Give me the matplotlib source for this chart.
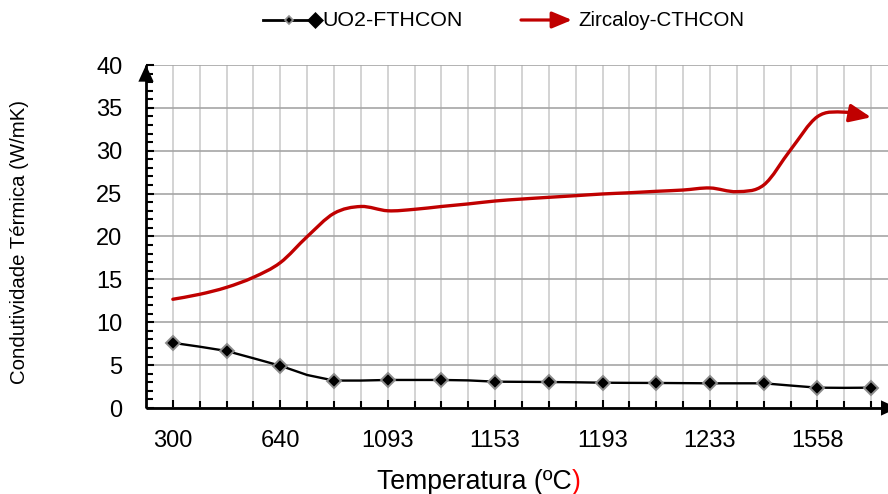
import matplotlib
matplotlib.use("Agg")
import matplotlib.pyplot as plt
import numpy as np
from matplotlib.lines import Line2D
from matplotlib.path import Path
from matplotlib.patches import FancyArrowPatch
from matplotlib.ticker import MultipleLocator, FixedLocator

plt.rcParams['font.family'] = ['Liberation Sans', 'DejaVu Sans']

# Temperature labels shown on the category axis (every fourth category)
temp_labels = ['300', '640', '1093', '1153', '1193', '1233', '1558']

# Thermal conductivity (W/mK) at each category position
uo2_fthcon = [7.6, 7.15, 6.65, 5.8, 4.93, 3.85, 3.2, 3.2, 3.27, 3.27,
              3.27, 3.22, 3.07, 3.05, 3.03, 3.0, 2.95, 2.93, 2.92, 2.9,
              2.88, 2.88, 2.88, 2.62, 2.37, 2.35, 2.37]
zircaloy_cthcon = [12.68, 13.26, 14.07, 15.24, 16.95, 19.98, 22.7, 23.5,
                   23.0, 23.17, 23.5, 23.8, 24.14, 24.37, 24.57, 24.76,
                   24.96, 25.1, 25.27, 25.42, 25.66, 25.23, 26.0, 30.1,
                   33.97, 34.5, 33.9]

RED = '#c00000'
W, H = 888, 494


def smooth_path(x, y):
    """Cubic Bezier path through the points (Catmull-Rom style smoothing)."""
    p = np.column_stack([x, y]).astype(float)
    verts = [p[0]]
    codes = [Path.MOVETO]
    for i in range(len(p) - 1):
        p0 = p[i - 1] if i > 0 else p[i]
        p1, p2 = p[i], p[i + 1]
        p3 = p[i + 2] if i + 2 < len(p) else p[i + 1]
        verts += [p1 + (p2 - p0) / 6, p2 - (p3 - p1) / 6, p2]
        codes += [Path.CURVE4] * 3
    return Path(verts, codes)


fig = plt.figure(figsize=(W / 100, H / 100), dpi=100)
ax = fig.add_axes([146 / W, 1 - 408 / H, (W - 146) / W, (408 - 65) / H])

n = len(uo2_fthcon)
xs = list(range(n))

ax.set_xlim(-1.0, 26.63)
ax.set_ylim(0, 40)

# ticks and grid
ax.xaxis.set_major_locator(FixedLocator(list(range(0, n, 4))))
ax.xaxis.set_minor_locator(FixedLocator(list(range(n))))
ax.set_xticklabels(temp_labels)
ax.yaxis.set_major_locator(MultipleLocator(5))
ax.yaxis.set_minor_locator(MultipleLocator(1))
ax.grid(axis='x', which='both', color='#c8c8c8', lw=1.1, zorder=0)
ax.grid(axis='y', which='major', color='#a6a6a6', lw=1.2, zorder=0)
ax.set_axisbelow(True)

for s in ('top', 'right'):
    ax.spines[s].set_visible(False)
for s in ('left', 'bottom'):
    ax.spines[s].set_linewidth(2.0)
    ax.spines[s].set_capstyle('butt')

ax.tick_params(axis='both', which='both', direction='in', color='black', width=1.5)
ax.tick_params(axis='both', which='major', length=6)
ax.tick_params(axis='both', which='minor', length=5)
ax.tick_params(axis='x', which='major', pad=16, labelsize=17)
ax.tick_params(axis='y', which='major', pad=17, labelsize=17)

# axis arrows
head = '-|>,head_length=1.2,head_width=0.55'
ax.annotate('', xy=(0, 1), xycoords='axes fraction', xytext=(0, -14),
            textcoords='offset points',
            arrowprops=dict(arrowstyle=head, mutation_scale=10, color='black',
                            lw=0, shrinkA=0, shrinkB=0), annotation_clip=False)
ax.annotate('', xy=(1.013, 0), xycoords='axes fraction', xytext=(-14, 0),
            textcoords='offset points',
            arrowprops=dict(arrowstyle=head, mutation_scale=10, color='black',
                            lw=0, shrinkA=0, shrinkB=0), annotation_clip=False)

# UO2 series: line through all points, markers on every other category
ax.plot(xs, uo2_fthcon, color='black', lw=1.7, marker='D', markevery=2,
        ms=7, mfc='black', mec='#8c8c8c', mew=1.4, zorder=4,
        solid_joinstyle='round', clip_on=False)

# Zircaloy series: smoothed curve ending in an arrowhead
zr_arrow = FancyArrowPatch(path=smooth_path(xs, zircaloy_cthcon),
                           arrowstyle='-|>,head_length=1.3,head_width=0.55',
                           mutation_scale=10, color=RED, lw=2.4,
                           transform=ax.transData, zorder=3,
                           joinstyle='round', capstyle='round')
ax.add_patch(zr_arrow)

# axis titles
fig.text(20 / W, 1 - 242 / H, 'Condutividade Térmica (W/mK)', rotation=90,
         ha='center', va='center', fontsize=14.7)
t = fig.text(377 / W, 1 - 482 / H, 'Temperatura (ºC', ha='left', va='center',
             fontsize=19.2)
ax.annotate(')', xy=(1, 0), xycoords=t, ha='left', va='bottom',
            fontsize=19.2, color='red', annotation_clip=False)


# legend
def fx(px):
    return px / W


def fy(py):
    return 1 - py / H


ly = 20
fig.add_artist(Line2D([fx(263), fx(312)], [fy(ly), fy(ly)], color='black',
                      lw=2.0, transform=fig.transFigure))
fig.add_artist(Line2D([fx(289)], [fy(ly)], marker='D', ms=4.5, mfc='black',
                      mec='#909090', mew=1.2, transform=fig.transFigure))
fig.add_artist(Line2D([fx(315)], [fy(ly)], marker='D', ms=8, mfc='black',
                      mec='black', mew=0.5, transform=fig.transFigure))
fig.text(fx(322), fy(ly), 'UO2-FTHCON', ha='left', va='center', fontsize=15.4)

ax.annotate('', xy=(fx(572), fy(ly)), xycoords='figure fraction',
            xytext=(fx(521), fy(ly)), textcoords='figure fraction',
            arrowprops=dict(arrowstyle='-|>,head_length=1.2,head_width=0.5',
                            mutation_scale=10, color=RED, lw=2.3,
                            shrinkA=0, shrinkB=0), annotation_clip=False)
fig.text(fx(578), fy(ly), 'Zircaloy-CTHCON', ha='left', va='center',
         fontsize=14.8)

fig.savefig('out.png', dpi=100)
